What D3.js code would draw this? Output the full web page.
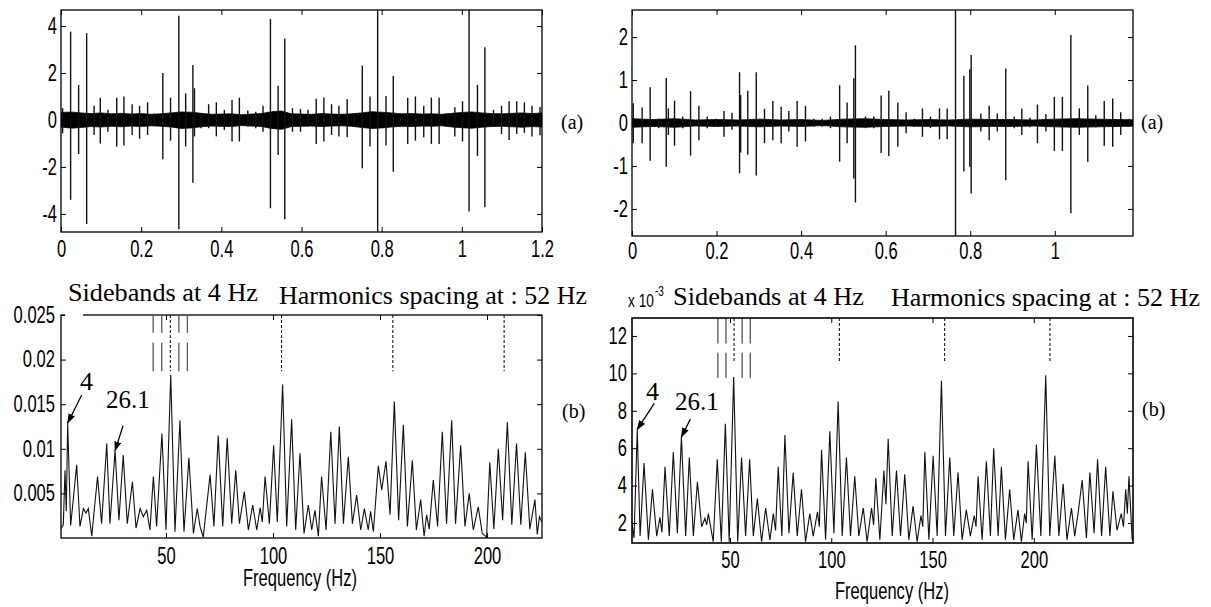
<!DOCTYPE html>
<html>
<head>
<meta charset="utf-8">
<script src="https://cdn.jsdelivr.net/npm/d3@7"></script>
<style>
  body { margin: 0; background: #fff; }
  svg { display: block; }
</style>
</head>
<body>
<div id="area"></div>
<script>
// ---------- data ----------

// (a) left: impulse times (s) with their positive / negative excursions
const tlSpikeT = [0.004, 0.024, 0.044, 0.064, 0.0825, 0.098, 0.117, 0.139, 0.157, 0.1775, 0.196, 0.216, 0.2325, 0.254, 0.2733, 0.294, 0.311, 0.329, 0.333, 0.349, 0.3683, 0.3875, 0.4075, 0.4267, 0.445, 0.466, 0.486, 0.504, 0.5225, 0.5417, 0.5583, 0.5775, 0.5975, 0.616, 0.6367, 0.6558, 0.675, 0.6933, 0.714, 0.731, 0.7517, 0.7708, 0.79, 0.8108, 0.829, 0.8467, 0.865, 0.8842, 0.905, 0.924, 0.9433, 0.964, 0.9825, 1.0017, 1.018, 1.039, 1.0575, 1.079, 1.099, 1.118, 1.137, 1.156, 1.175, 1.195];
const tlSpikeHi = [0.5, 3.76, 1.49, 3.69, 0.6, 0.95, 0.43, 0.95, 1.0, 0.67, 0.6, 0.75, 0.26, 2.0, 0.95, 4.44, 1.13, 2.34, 1.35, 0.28, 0.67, 0.75, 0.43, 0.85, 0.95, 0.4, 0.35, 0.6, 4.3, 1.46, 3.47, 0.5, 0.47, 0.43, 0.9, 0.96, 0.67, 0.6, 0.88, 0.28, 2.31, 1.0, 6.0, 1.02, 1.87, 0.2, 0.95, 1.0, 0.6, 0.95, 0.95, 0.28, 0.54, 0.8, 6.0, 1.49, 3.09, 0.43, 0.6, 0.8, 0.8, 0.75, 0.6, 0.55];
const tlSpikeLo = [-0.57, -3.4, -1.45, -4.43, -0.64, -1.0, -0.5, -1.13, -1.09, -0.64, -0.8, -0.64, -0.2, -1.67, -0.88, -4.65, -1.13, -2.67, -0.7, -0.35, -0.35, -0.7, -0.43, -0.92, -0.92, -0.28, -0.35, -0.5, -3.76, -1.49, -4.23, -0.5, -0.5, -0.28, -1.02, -0.92, -0.64, -0.7, -0.74, -0.28, -2.06, -1.13, -6.0, -1.09, -2.2, -0.28, -1.02, -0.88, -0.74, -1.02, -1.02, -0.28, -0.7, -0.92, -3.9, -1.53, -3.72, -0.3, -0.6, -0.85, -0.6, -0.55, -0.7, -0.65];
// (a) left: envelope of the dense background band
const tlBandT = [0, 0.025, 0.05, 0.075, 0.1, 0.125, 0.15, 0.175, 0.2, 0.225, 0.25, 0.275, 0.3, 0.325, 0.35, 0.375, 0.4, 0.425, 0.45, 0.475, 0.5, 0.525, 0.55, 0.575, 0.6, 0.625, 0.65, 0.675, 0.7, 0.725, 0.75, 0.775, 0.8, 0.825, 0.85, 0.875, 0.9, 0.925, 0.95, 0.975, 1.0, 1.025, 1.05, 1.075, 1.1, 1.125, 1.15, 1.175, 1.2];
const tlBandHi = [0.32, 0.34, 0.3, 0.27, 0.3, 0.26, 0.28, 0.25, 0.27, 0.24, 0.26, 0.3, 0.34, 0.33, 0.28, 0.24, 0.25, 0.26, 0.22, 0.25, 0.27, 0.35, 0.38, 0.26, 0.25, 0.24, 0.27, 0.25, 0.24, 0.26, 0.3, 0.35, 0.33, 0.3, 0.26, 0.27, 0.25, 0.26, 0.24, 0.28, 0.32, 0.34, 0.3, 0.27, 0.26, 0.28, 0.3, 0.27, 0.3];
const tlBandLo = [-0.3, -0.35, -0.32, -0.28, -0.3, -0.27, -0.29, -0.26, -0.28, -0.25, -0.27, -0.3, -0.36, -0.34, -0.29, -0.26, -0.27, -0.28, -0.24, -0.26, -0.28, -0.36, -0.4, -0.28, -0.27, -0.26, -0.28, -0.26, -0.25, -0.27, -0.32, -0.36, -0.34, -0.3, -0.27, -0.28, -0.26, -0.27, -0.25, -0.3, -0.33, -0.35, -0.31, -0.28, -0.27, -0.29, -0.31, -0.28, -0.3];

// (a) right
const trSpikeT = [0.003, 0.024, 0.043, 0.063, 0.081, 0.086, 0.1006, 0.12, 0.1385, 0.1582, 0.178, 0.198, 0.2176, 0.2366, 0.2544, 0.257, 0.2738, 0.2939, 0.3134, 0.3331, 0.3528, 0.3709, 0.3906, 0.4103, 0.43, 0.4497, 0.4694, 0.4911, 0.5088, 0.5246, 0.5285, 0.5522, 0.5719, 0.5893, 0.6074, 0.6287, 0.6484, 0.6681, 0.687, 0.706, 0.7273, 0.7455, 0.7652, 0.785, 0.799, 0.8022, 0.8251, 0.8448, 0.864, 0.884, 0.904, 0.922, 0.941, 0.959, 0.979, 0.999, 1.018, 1.038, 1.058, 1.078, 1.097, 1.117, 1.137, 1.156, 1.176];
const trSpikeHi = [0.46, 0.36, 0.83, 0.1, 1.05, 0.34, 0.52, 0.15, 0.74, 0.4, 0.15, 0.1, 0.28, 0.24, 1.18, 0.65, 0.75, 1.18, 0.33, 0.51, 0.38, 0.28, 0.51, 0.4, 0.1, 0.1, 0.15, 0.88, 0.48, 1.04, 1.81, 0.15, 0.15, 0.64, 0.75, 0.48, 0.25, 0.1, 0.34, 0.15, 0.34, 0.34, 3.0, 1.1, 1.25, 1.58, 0.22, 0.4, 0.22, 1.27, 0.15, 0.34, 0.12, 0.43, 0.21, 0.61, 0.61, 2.05, 0.34, 0.87, 0.18, 0.51, 0.57, 0.25, 0.1];
const trSpikeLo = [-0.47, -0.47, -0.88, -0.12, -1.02, -0.28, -0.53, -0.12, -0.76, -0.4, -0.12, -0.09, -0.32, -0.16, -1.17, -0.69, -0.74, -1.22, -0.47, -0.4, -0.47, -0.2, -0.55, -0.43, -0.09, -0.09, -0.12, -0.9, -0.47, -1.29, -1.85, -0.12, -0.12, -0.7, -0.77, -0.55, -0.24, -0.09, -0.32, -0.12, -0.38, -0.38, -3.0, -1.13, -1.02, -1.64, -0.2, -0.4, -0.2, -1.33, -0.12, -0.28, -0.1, -0.47, -0.2, -0.65, -0.65, -2.1, -0.28, -0.9, -0.1, -0.53, -0.55, -0.28, -0.09];
const trBandT = [0, 0.05, 0.1, 0.15, 0.2, 0.25, 0.3, 0.35, 0.4, 0.45, 0.5, 0.55, 0.6, 0.65, 0.7, 0.75, 0.8, 0.85, 0.9, 0.95, 1.0, 1.05, 1.1, 1.15, 1.2];
const trBandHi = [0.1, 0.08, 0.1, 0.07, 0.08, 0.07, 0.09, 0.07, 0.08, 0.06, 0.09, 0.1, 0.08, 0.07, 0.08, 0.07, 0.09, 0.08, 0.08, 0.07, 0.09, 0.1, 0.09, 0.08, 0.07];
const trBandLo = [-0.1, -0.08, -0.1, -0.07, -0.08, -0.07, -0.09, -0.07, -0.08, -0.06, -0.09, -0.1, -0.08, -0.07, -0.08, -0.07, -0.09, -0.08, -0.08, -0.07, -0.09, -0.1, -0.09, -0.08, -0.07];

// (b) spectra: frequency (Hz) and amplitude (x 1e-3), peaks and troughs
const blFreq = [0.93, 2.0, 2.8, 3.4, 4.05, 5.45, 8.26, 9.8, 11.4, 12.6, 13.7, 15.3, 18.0, 19.9, 22.3, 23.8, 26.2, 28.0, 30.0, 31.9, 34.3, 36.0, 37.9, 39.4, 41.0, 42.5, 44.1, 45.6, 48.1, 50.0, 52.2, 54.2, 56.5, 58.4, 60.7, 62.8, 64.6, 65.9, 67.4, 70.6, 72.4, 74.4, 76.5, 78.6, 80.7, 82.6, 84.3, 86.6, 88.5, 90.5, 92.4, 94.0, 95.0, 96.3, 98.3, 100.3, 102.0, 104.5, 106.4, 108.7, 110.6, 112.6, 114.5, 116.5, 118.1, 119.6, 121.2, 122.7, 124.8, 127.0, 129.0, 131.0, 132.9, 135.2, 137.1, 139.1, 141.0, 142.7, 144.5, 145.6, 146.9, 149.2, 150.8, 152.8, 154.7, 156.7, 158.7, 160.9, 162.8, 165.1, 167.0, 169.0, 170.6, 171.8, 173.0, 174.9, 176.9, 179.1, 181.1, 183.5, 185.3, 187.7, 189.7, 191.7, 193.6, 195.9, 197.8, 199.8, 201.3, 203.2, 205.3, 207.3, 209.5, 211.6, 213.8, 215.8, 217.9, 220.0, 222.4, 223.5, 224.5, 225.7];
const blAmp = [1.0, 1.5, 7.6, 3.0, 12.9, 1.4, 8.2, 1.3, 3.3, 2.8, 3.3, 0.2, 6.9, 1.6, 10.6, 1.6, 9.8, 2.0, 9.3, 1.6, 6.3, 1.1, 3.3, 2.4, 3.1, 0.9, 6.9, 1.3, 11.7, 0.9, 18.3, 0.7, 13.2, 0.7, 9.0, 0.5, 3.3, 1.3, 0.1, 7.1, 1.3, 11.5, 1.3, 11.2, 1.6, 7.6, 1.6, 5.2, 0.9, 3.7, 0.9, 3.4, 1.8, 6.9, 1.6, 10.4, 1.8, 17.2, 1.3, 13.3, 0.9, 9.5, 0.5, 3.7, 0.9, 3.1, 0.2, 6.9, 0.9, 11.9, 1.6, 12.5, 1.6, 9.1, 1.6, 4.8, 0.9, 3.3, 0.9, 3.0, 0.7, 8.1, 5.4, 8.6, 2.6, 15.3, 2.0, 12.7, 1.3, 8.7, 0.9, 4.3, 0.2, 2.6, 1.0, 6.5, 1.3, 11.9, 1.6, 13.2, 1.6, 10.4, 1.3, 5.0, 0.9, 3.5, 0.5, 0.1, 8.5, 1.0, 10.0, 2.0, 13.0, 1.5, 10.6, 1.5, 9.6, 1.0, 4.3, 0.4, 2.4, 1.8];

const brFreq = [1.6, 2.6, 4.2, 5.6, 7.55, 9.7, 11.7, 13.8, 15.4, 16.4, 17.9, 20.0, 22.0, 24.0, 26.0, 28.1, 29.9, 31.9, 33.9, 36.0, 37.6, 38.5, 39.3, 41.7, 43.7, 45.7, 47.7, 49.6, 51.8, 53.8, 55.7, 57.7, 59.7, 61.5, 63.5, 65.6, 67.6, 69.7, 71.4, 72.5, 73.8, 75.6, 77.1, 79.1, 81.2, 83.2, 85.3, 87.3, 89.4, 91.1, 93.2, 94.1, 95.2, 97.2, 99.3, 101.3, 103.4, 105.4, 107.5, 109.5, 111.6, 113.6, 115.8, 117.7, 119.9, 120.9, 122.0, 124.0, 126.0, 127.0, 128.1, 130.1, 132.2, 134.2, 136.3, 138.3, 140.4, 142.4, 144.3, 145.2, 146.2, 148.2, 150.3, 152.3, 154.4, 156.4, 158.5, 160.5, 162.6, 164.6, 166.7, 168.7, 170.6, 171.5, 172.5, 174.5, 176.6, 178.6, 180.2, 182.4, 184.0, 186.0, 188.1, 190.1, 192.2, 193.9, 195.5, 196.3, 197.2, 199.2, 201.3, 203.5, 205.9, 207.9, 210.4, 212.4, 214.5, 216.4, 218.6, 220.2, 222.0, 223.9, 226.0, 227.7, 229.8, 231.5, 233.5, 235.5, 237.6, 239.1, 241.1, 243.2, 244.3, 245.4, 246.2, 247.0, 248.6, 249.0];
const brAmp = [2.0, 1.2, 7.0, 1.3, 5.2, 1.1, 3.8, 1.3, 2.3, 1.5, 5.0, 1.3, 5.8, 1.45, 6.6, 1.3, 5.5, 1.3, 4.2, 1.8, 2.25, 1.9, 2.5, 1.0, 5.4, 1.0, 7.3, 1.0, 9.8, 1.0, 5.5, 1.3, 5.4, 1.3, 3.3, 1.0, 2.8, 1.1, 2.5, 1.6, 5.0, 1.3, 6.7, 1.45, 4.7, 1.3, 3.8, 1.0, 2.5, 1.3, 2.6, 1.8, 5.9, 1.1, 6.9, 1.45, 8.5, 1.3, 5.5, 1.3, 4.5, 1.3, 2.8, 1.0, 2.8, 1.9, 4.4, 1.1, 4.8, 3.0, 6.5, 1.3, 4.8, 1.3, 4.6, 1.1, 2.9, 1.0, 2.4, 1.8, 5.8, 1.1, 5.6, 1.3, 9.6, 1.3, 5.5, 1.3, 4.7, 1.1, 2.7, 1.3, 2.4, 1.8, 4.5, 1.1, 5.3, 1.3, 6.0, 1.3, 5.0, 1.1, 3.8, 1.1, 2.7, 1.0, 2.5, 2.0, 5.3, 1.1, 6.2, 1.3, 9.9, 1.3, 5.6, 1.3, 4.1, 1.1, 2.8, 1.3, 2.6, 4.3, 1.2, 4.7, 1.45, 5.4, 1.3, 5.0, 1.3, 3.7, 1.6, 2.5, 1.8, 3.8, 2.5, 4.5, 1.1, 1.3];

// marker lines above the spectra
const sidebandF = [44, 48, 56, 60];
const harmonicF = [52, 104, 156, 208];

const timeTicksL = [0, 0.2, 0.4, 0.6, 0.8, 1, 1.2];
const timeTicksR = [0, 0.2, 0.4, 0.6, 0.8, 1];
const ampTicksL = [-4, -2, 0, 2, 4];
const ampTicksR = [-2, -1, 0, 1, 2];
const freqTicks = [50, 100, 150, 200];
const specTicksL = [5, 10, 15, 20, 25];
const specTicksR = [2, 4, 6, 8, 10, 12];

// ---------- drawing ----------
const SANS = "'Liberation Sans', Arial, Helvetica, sans-serif";
const SERIF = "'Liberation Serif', 'Times New Roman', serif";
const SQX = 0.72;     // the figure's sans text is horizontally squeezed
const TICK = 5;

const svg = d3.select("#area").append("svg")
  .attr("width", 1211).attr("height", 607);

const defs = svg.append("defs");
defs.append("marker")
  .attr("id", "head")
  .attr("markerUnits", "userSpaceOnUse")
  .attr("markerWidth", 10).attr("markerHeight", 7)
  .attr("refX", 9).attr("refY", 3.5)
  .attr("orient", "auto")
  .append("path").attr("d", "M0,0 L10,3.5 L0,7 Z").attr("fill", "#000");

let clipN = 0;
function panel(o) {
  const x = d3.scaleLinear().domain(o.xDomain).range([o.left, o.right]);
  const y = d3.scaleLinear().domain(o.yDomain).range([o.bottom, o.top]);
  const id = "clip" + clipN++;
  defs.append("clipPath").attr("id", id).append("rect")
    .attr("x", o.left).attr("y", o.top)
    .attr("width", o.right - o.left).attr("height", o.bottom - o.top);
  const plot = svg.append("g").attr("clip-path", `url(#${id})`);
  return { x, y, plot, o };
}

function sansTicks(sel, shiftX) {
  sel.attr("font-size", 23).attr("font-family", SANS);
  sel.selectAll("text").attr("fill", "#000")
    .attr("transform", `scale(${SQX},1)`);
  if (shiftX !== undefined) sel.selectAll("text").attr("x", shiftX / SQX);
}

function frame(p) {
  const { x, y, o } = p;
  const g = svg.append("g");
  g.append("g")
    .attr("transform", `translate(0,${o.bottom})`)
    .call(d3.axisBottom(x).tickValues(o.xTicks).tickSize(-TICK)
      .tickPadding(o.xPad).tickFormat(o.xFmt || String))
    .call(s => s.select(".domain").remove())
    .call(s => sansTicks(s));
  g.append("g")
    .attr("transform", `translate(0,${o.top})`)
    .call(d3.axisTop(x).tickValues(o.xTicks).tickSize(-TICK).tickFormat(""))
    .call(s => s.select(".domain").remove());
  g.append("g")
    .attr("transform", `translate(${o.left},0)`)
    .call(d3.axisLeft(y).tickValues(o.yTicks).tickSize(-TICK)
      .tickFormat(o.yFmt || String))
    .call(s => s.select(".domain").remove())
    .call(s => sansTicks(s, -o.yPad));
  g.append("g")
    .attr("transform", `translate(${o.right},0)`)
    .call(d3.axisRight(y).tickValues(o.yTicks).tickSize(-TICK).tickFormat(""))
    .call(s => s.select(".domain").remove());
  g.selectAll(".tick line").attr("stroke", "#000").attr("stroke-width", 1);
  g.append("rect")
    .attr("x", o.left).attr("y", o.top)
    .attr("width", o.right - o.left).attr("height", o.bottom - o.top)
    .attr("fill", "none").attr("stroke", "#000").attr("stroke-width", o.box || 1.3);
  return g;
}

function spikes(p, T, HI, LO, band) {
  const { x, y, plot } = p;
  const area = d3.area()
    .x(i => x(band.t[i])).y0(i => y(band.lo[i])).y1(i => y(band.hi[i]));
  plot.append("path").attr("d", area(d3.range(band.t.length)))
    .attr("fill", "#000").attr("stroke", "#000").attr("stroke-width", 0.8);
  plot.append("line")
    .attr("x1", p.o.left).attr("x2", p.o.right)
    .attr("y1", y(0)).attr("y2", y(0))
    .attr("stroke", "#000").attr("stroke-width", 2);
  plot.selectAll("line.spk").data(d3.range(T.length)).join("line")
    .attr("class", "spk")
    .attr("x1", i => x(T[i])).attr("x2", i => x(T[i]))
    .attr("y1", i => y(HI[i])).attr("y2", i => y(LO[i]))
    .attr("stroke", "#111").attr("stroke-width", 1.4);
}

function spectrum(p, F, A) {
  const { x, y, plot } = p;
  const line = d3.line().x(i => x(F[i])).y(i => y(A[i]));
  plot.append("path").attr("d", line(d3.range(F.length)))
    .attr("fill", "none").attr("stroke", "#111").attr("stroke-width", 1.1)
    .attr("stroke-linejoin", "miter");
}

function markers(p, seg) {
  const { x, y } = p;
  const g = svg.append("g");
  seg.solid.forEach(([a, b]) => {
    g.selectAll(null).data(sidebandF).join("line")
      .attr("x1", d => x(d)).attr("x2", d => x(d))
      .attr("y1", y(a)).attr("y2", y(b))
      .attr("stroke", "#555").attr("stroke-width", 1.3);
  });
  g.selectAll(null).data(harmonicF).join("line")
    .attr("x1", d => x(d)).attr("x2", d => x(d))
    .attr("y1", y(p.o.yDomain[1])).attr("y2", y(seg.dashEnd))
    .attr("stroke", "#000").attr("stroke-width", 1)
    .attr("stroke-dasharray", "3,2");
}

function serif(txt, x, y, size, len) {
  const t = svg.append("text").attr("x", x).attr("y", y)
    .attr("font-family", SERIF).attr("font-size", size).attr("fill", "#000")
    .text(txt);
  if (len) t.attr("textLength", len).attr("lengthAdjust", "spacingAndGlyphs");
  return t;
}

function sans(txt, x, y, size, anchor) {
  svg.append("text")
    .attr("transform", `translate(${x},${y}) scale(${SQX},1)`)
    .attr("text-anchor", anchor || "middle")
    .attr("font-family", SANS).attr("font-size", size).attr("fill", "#000")
    .text(txt);
}

function pointer(p, f, a, dx, dy) {
  const x1 = p.x(f), y1 = p.y(a);
  svg.append("line")
    .attr("x1", x1 + dx).attr("y1", y1 + dy).attr("x2", x1).attr("y2", y1)
    .attr("stroke", "#000").attr("stroke-width", 1.3)
    .attr("marker-end", "url(#head)");
}

// --- top-left (a)
const tl = panel({ left: 61, right: 542, top: 10, bottom: 232,
  xDomain: [0, 1.2], yDomain: [-4.77, 4.68],
  xTicks: timeTicksL, yTicks: ampTicksL, xPad: 9, yPad: 4 });
spikes(tl, tlSpikeT, tlSpikeHi, tlSpikeLo, { t: tlBandT, hi: tlBandHi, lo: tlBandLo });
frame(tl);
serif("(a)", 561, 129, 20);

// --- top-right (a)
const tr = panel({ left: 632, right: 1133, top: 10, bottom: 236,
  xDomain: [0, 1.185], yDomain: [-2.63, 2.63],
  xTicks: timeTicksR, yTicks: ampTicksR, xPad: 7, yPad: 4 });
spikes(tr, trSpikeT, trSpikeHi, trSpikeLo, { t: trBandT, hi: trBandHi, lo: trBandLo });
frame(tr);
serif("(a)", 1141, 129, 20);

// --- bottom-left (b)
const bl = panel({ left: 61, right: 542, top: 315, bottom: 538,
  xDomain: [0.93, 225.7], yDomain: [0, 25],
  xTicks: freqTicks, yTicks: specTicksL, xPad: 10, yPad: 6,
  yFmt: d => String(d / 1000) });
spectrum(bl, blFreq, blAmp);
markers(bl, { solid: [[24.9, 23.0], [21.9, 18.7]], dashEnd: 18.7 });
frame(bl);
svg.append("rect").attr("x", 65).attr("y", 312).attr("width", 18).attr("height", 6).attr("fill", "#fff");
serif("Sidebands at 4 Hz", 68, 301, 26, 190);
serif("Harmonics spacing at : 52 Hz", 279, 304, 26, 308);
serif("(b)", 562, 418, 20);
sans("Frequency (Hz)", 300, 586, 23);
pointer(bl, 4.05, 12.9, 14, -28);
serif("4", 80, 390, 26);
pointer(bl, 26.2, 9.8, 8, -25);
serif("26.1", 106, 408, 25);

// --- bottom-right (b)
const br = panel({ left: 632, right: 1133, top: 318, bottom: 543,
  xDomain: [1.6, 249], yDomain: [0.93, 12.96],
  xTicks: freqTicks, yTicks: specTicksR, xPad: 9, yPad: 5, box: 1.6 });
spectrum(br, brFreq, brAmp);
markers(br, { solid: [[12.96, 11.6], [11.1, 9.75]], dashEnd: 10.56 });
frame(br);
sans("x 10", 628, 307, 19, "start");
sans("-3", 655, 296, 14, "start");
serif("Sidebands at 4 Hz", 673, 305, 26, 191);
serif("Harmonics spacing at : 52 Hz", 891, 306, 26, 309);
serif("(b)", 1142, 416, 20);
sans("Frequency (Hz)", 892, 599, 23);
pointer(br, 4.2, 7.0, 17, -26);
serif("4", 646, 400, 26);
pointer(br, 26.0, 6.6, 9, -18);
serif("26.1", 675, 410, 25);
</script>
</body>
</html>
